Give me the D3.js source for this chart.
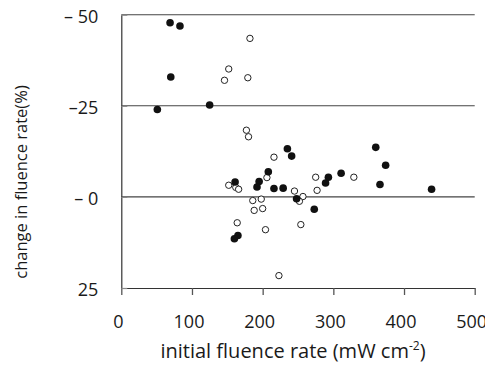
<!DOCTYPE html>
<html>
<head>
<meta charset="utf-8">
<script src="https://cdn.jsdelivr.net/npm/d3@7"></script>
<style>
  body { margin: 0; background: #fff; }
  text { font-family: "Open Sans", "Noto Sans", sans-serif; fill: #1a1a1a; }
</style>
</head>
<body>
<div id="chart"></div>
<script>
// filled markers: [initial fluence rate, change %]
let filledX = [69, 83, 70, 51, 125, 235, 241, 208, 293, 289, 311, 195, 192, 161, 216, 229, 248, 273, 165, 160, 360, 374, 366, 439];
let filledY = [47.8, 46.9, 32.9, 24.0, 25.2, 13.2, 11.2, 6.9, 5.4, 3.8, 6.5, 4.2, 2.7, 4.1, 2.3, 2.4, -0.5, -3.4, -10.6, -11.5, 13.6, 8.7, 3.4, 2.1];

// open markers
let openX = [182, 152, 146, 179, 177, 180, 216, 275, 206, 152, 162, 166, 245, 257, 252, 277, 186, 198, 188, 200, 164, 204, 254, 223, 329];
let openY = [43.5, 35.1, 32.0, 32.7, 18.3, 16.5, 10.9, 5.4, 5.3, 3.2, 2.6, 2.1, 1.6, 0.1, -1.2, 1.8, -1.0, -0.6, -3.7, -3.2, -7.1, -9.0, -7.6, -21.6, 5.4];

let xTicks = [0, 100, 200, 300, 400, 500];
let yTicks = [50, 25, 0, -25];
let yTickLabels = ['\u2013 50', '\u201325', '\u2013 0', '25'];
let gridValues = [50, 25, 0];

class ScatterChart {
    constructor(div) {
        this.svg = d3.select(div).append('svg')
            .attr('width', 485)
            .attr('height', 377);
    }

    draw() {
        let left = 121.3, right = 474.7, top = 14.7, bottom = 288;
        let font = '"Open Sans", "Noto Sans", sans-serif';

        let xScale = d3.scaleLinear().domain([0, 500]).range([left, right]);
        let yScale = d3.scaleLinear().domain([-25, 50]).range([bottom, top]);

        // horizontal reference lines
        this.svg.selectAll('line.grid').data(gridValues).enter()
            .append('line')
                .classed('grid', true)
                .attr('x1', left)
                .attr('x2', right)
                .attr('y1', (d) => yScale(d))
                .attr('y2', (d) => yScale(d))
                .attr('stroke', '#444')
                .attr('stroke-width', 1.1);

        let xAxis = d3.axisBottom(xScale)
            .tickValues(xTicks)
            .tickSizeInner(7)
            .tickSizeOuter(0)
            .tickPadding(20);

        let xg = this.svg.append('g')
            .attr('transform', `translate(0,${bottom})`)
            .call(xAxis);
        xg.select('.domain').attr('stroke', '#333').attr('stroke-width', 1.2);
        xg.selectAll('.tick line').attr('stroke', '#555').attr('stroke-width', 1.3);
        xg.selectAll('.tick text')
            .attr('dx', -3.5)
            .style('font-family', font)
            .style('font-size', '18px')
            .attr('fill', '#1a1a1a');

        let yAxis = d3.axisLeft(yScale)
            .tickValues(yTicks)
            .tickFormat((d, i) => yTickLabels[i])
            .tickSizeInner(-6)
            .tickSizeOuter(0)
            .tickPadding(23);

        let yg = this.svg.append('g')
            .attr('transform', `translate(${left},0)`)
            .call(yAxis);
        yg.select('.domain').attr('stroke', '#333').attr('stroke-width', 1.2);
        yg.selectAll('.tick line').attr('stroke', '#888').attr('stroke-width', 1.2);
        yg.selectAll('.tick text')
            .attr('y', 2)
            .style('font-family', font)
            .style('font-size', '18px')
            .attr('fill', '#1a1a1a');

        // open circles
        this.svg.selectAll('circle.open').data(openX).enter()
            .append('circle')
                .classed('open', true)
                .attr('cx', (d) => xScale(d))
                .attr('cy', (d, i) => yScale(openY[i]))
                .attr('r', 3.2)
                .attr('fill', '#fff')
                .attr('stroke', '#222')
                .attr('stroke-width', 1);

        // filled circles
        this.svg.selectAll('circle.filled').data(filledX).enter()
            .append('circle')
                .classed('filled', true)
                .attr('cx', (d) => xScale(d))
                .attr('cy', (d, i) => yScale(filledY[i]))
                .attr('r', 3.8)
                .attr('fill', '#111');

        // axis titles
        let xt = this.svg.append('text')
            .attr('x', 293)
            .attr('y', 358)
            .attr('text-anchor', 'middle')
            .style('font-size', '20px');
        xt.append('tspan').text('initial fluence rate (mW cm');
        xt.append('tspan').text('-2').attr('dy', -8).style('font-size', '12px');
        xt.append('tspan').text(')').attr('dy', 8);

        this.svg.append('text')
            .attr('transform', 'translate(27,182) rotate(-90)')
            .attr('text-anchor', 'middle')
            .style('font-size', '16.5px')
            .text('change in fluence rate(%)');
    }
}

let chart = new ScatterChart('#chart');
chart.draw();
</script>
</body>
</html>
